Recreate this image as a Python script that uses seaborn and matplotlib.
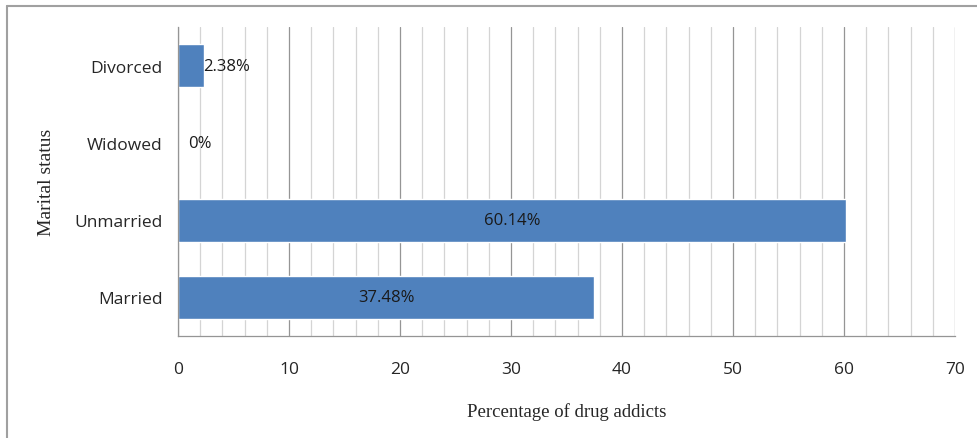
import numpy as np
import pandas as pd
import matplotlib.pyplot as plt
import seaborn as sns
from matplotlib.lines import Line2D

# data
status = ["Divorced", "Widowed", "Unmarried", "Married"]
percent = [2.38, 0, 60.14, 37.48]
labels = ["2.38%", "0%", "60.14%", "37.48%"]

df = pd.DataFrame({"status": status, "percent": percent})

sns.set_style("white")
plt.rcParams['font.family'] = ['Open Sans', 'DejaVu Sans']

fig = plt.figure(figsize=(9.77, 4.39), dpi=100)
ax = fig.add_axes([0.1822, 0.2323, 0.7953, 0.7039])
# frame only on top and left, like the cropped original
fig.lines.append(Line2D([0.0075, 1.0], [0.985, 0.985], transform=fig.transFigure,
                        color='#a0a0a0', lw=1.5))
fig.lines.append(Line2D([0.0075, 0.0075], [0.0, 0.985], transform=fig.transFigure,
                        color='#a0a0a0', lw=1.5))

# gridlines: minor every 2, major every 10
for v in np.arange(0, 71, 2):
    major = v % 10 == 0
    ax.axvline(v, color='#959595' if major else '#d4d4d4', lw=0.9, zorder=0)

sns.barplot(data=df, x="percent", y="status", order=status, color='#4F81BD',
            saturation=1, width=0.56, ax=ax, zorder=2)

for i, (v, lab) in enumerate(zip(percent, labels)):
    if v > 10:
        ax.text(v / 2, i, lab, ha='center', va='center', fontsize=12, color='#1a1a1a')
    else:
        ax.text(v + 2, i, lab, ha='center', va='center', fontsize=12, color='#1a1a1a')

ax.set_xlim(0, 70)
ax.set_ylim(3.5, -0.5)
ax.set_xticks(np.arange(0, 71, 10))
ax.tick_params(axis='x', length=6, color='#959595', width=0.9, pad=12, labelsize=12.5)
ax.tick_params(axis='y', length=0, pad=11, labelsize=12.5)
for s in ['top', 'right']:
    ax.spines[s].set_visible(False)
for s in ['left', 'bottom']:
    ax.spines[s].set_color('#959595')
    ax.spines[s].set_linewidth(0.9)

ax.set_xlabel("Percentage of drug addicts", family='Liberation Serif', fontsize=13.5, labelpad=18)
ax.set_ylabel("Marital status", family='Liberation Serif', fontsize=14, labelpad=14)

plt.savefig("out.png", dpi=100)
